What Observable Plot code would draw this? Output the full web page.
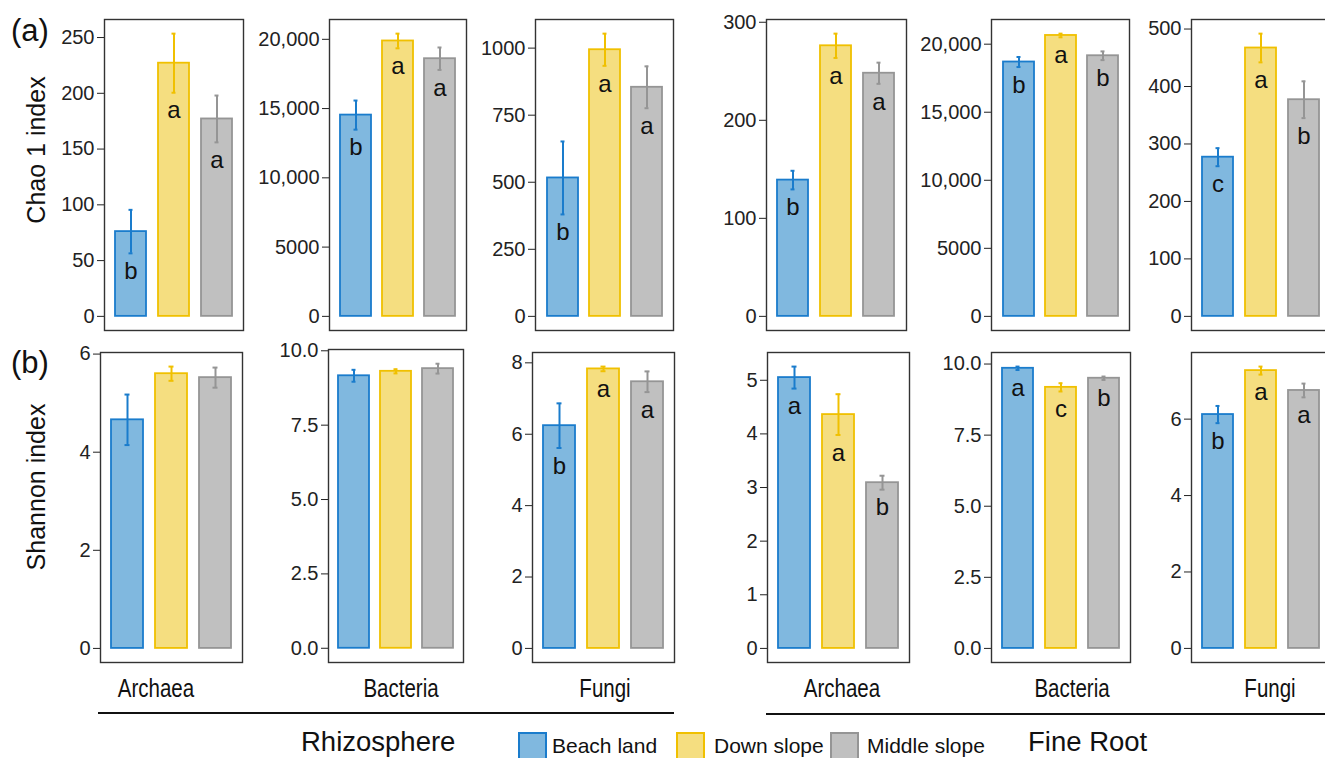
<!DOCTYPE html>
<html><head><meta charset="utf-8">
<script src="https://cdn.jsdelivr.net/npm/d3@7"></script>
<script src="https://cdn.jsdelivr.net/npm/@observablehq/plot@0.6"></script>
<style>
body{margin:0;background:#fff;}
#root{position:relative;width:1325px;height:758px;overflow:hidden;font-family:"Liberation Sans",Arial,Helvetica,sans-serif;color:#111;}
.abs{position:absolute;white-space:nowrap;line-height:1;}
</style></head><body><div id="root"></div>
<script>
// ---------- data ----------
const treatments = ["Beach land", "Down slope", "Middle slope"];
const taxa = ["Archaea", "Bacteria", "Fungi"];
const compartments = ["Rhizosphere", "Fine Root"];
const fills = ["#80b8df", "#f5de80", "#c0c0c0"];
const strokes = ["#1a7ccc", "#f0c000", "#959595"];

// panel order: Rhizosphere Archaea, Bacteria, Fungi, Fine Root Archaea, Bacteria, Fungi
const chaoMean = [[76, 227, 177], [14530, 19880, 18600], [516, 994, 854], [139, 276, 248], [18690, 20640, 19150], [277, 467, 377]];
const chaoSE = [[19.5, 26.5, 21], [1050, 530, 810], [136, 60, 78], [9.5, 12.4, 10.8], [370, 135, 320], [15.7, 25, 32]];
const chaoLetters = [["b", "a", "a"], ["b", "a", "a"], ["b", "a", "a"], ["b", "a", "a"], ["b", "a", "b"], ["c", "a", "b"]];
const chaoTicks = [[0, 50, 100, 150, 200, 250], [0, 5000, 10000, 15000, 20000], [0, 250, 500, 750, 1000], [0, 100, 200, 300], [0, 5000, 10000, 15000, 20000], [0, 100, 200, 300, 400, 500]];

const shanMean = [[4.66, 5.60, 5.52], [9.16, 9.31, 9.40], [6.24, 7.83, 7.47], [5.05, 4.36, 3.09], [9.85, 9.18, 9.50], [6.12, 7.27, 6.75]];
const shanSE = [[0.515, 0.145, 0.205], [0.20, 0.07, 0.165], [0.625, 0.065, 0.29], [0.205, 0.38, 0.13], [0.06, 0.145, 0.06], [0.225, 0.105, 0.18]];
const shanLetters = [["", "", ""], ["", "", ""], ["b", "a", "a"], ["a", "a", "b"], ["a", "c", "b"], ["b", "a", "a"]];
const shanTicks = [[0, 2, 4, 6], [0, 2.5, 5, 7.5, 10], [0, 2, 4, 6, 8], [0, 1, 2, 3, 4, 5], [0, 2.5, 5, 7.5, 10], [0, 2, 4, 6]];
const shanDecimals = [0, 1, 0, 0, 1, 0];

// ---------- layout ----------
const root = document.getElementById("root");
const topBoxes = [[104, 243, 19, 330], [329, 466, 19, 330], [535, 673, 19, 330], [766, 906, 19, 330], [991, 1129, 19, 330], [1191, 1331, 19, 330]];
const botBoxes = [[100, 242, 352, 662], [328, 463, 349, 662], [532, 674, 352, 662], [767, 909, 352, 662], [991, 1130, 352, 662], [1191, 1331, 352, 662]];
const FONT = '"Liberation Sans", Arial, Helvetica, sans-serif';

function panel(mean, se, letters, ticks, fmt, box) {
  const [l, r, t, b] = box;
  const ML = 90, MR = 4, MT = 4, MB = 4;
  const rows = treatments.map((g, i) => ({
    g, m: mean[i], lo: mean[i] - se[i], hi: mean[i] + se[i],
    letter: letters[i], fc: fills[i], sc: strokes[i]
  }));
  const mx = d3.max(rows, d => d.hi);
  const svg = Plot.plot({
    width: ML + (r - l) + MR, height: MT + (b - t) + MB,
    marginLeft: ML, marginRight: MR, marginTop: MT, marginBottom: MB,
    style: {fontFamily: FONT, fontSize: "20px", color: "#222", background: "transparent", overflow: "visible"},
    x: {domain: treatments, paddingInner: 0.27, paddingOuter: 0.24, axis: null},
    y: {domain: [-0.05 * mx, 1.05 * mx], axis: null},
    color: {type: "identity"},
    marks: [
      Plot.barY(rows, {x: "g", y1: 0, y2: "m", fill: "fc", stroke: "sc", strokeWidth: 1.8}),
      Plot.ruleX(rows, {x: "g", y1: "lo", y2: "hi", stroke: "sc", strokeWidth: 2}),
      Plot.tickY(rows, {x: "g", y: "hi", stroke: "sc", strokeWidth: 2, insetLeft: 13.5, insetRight: 13.5}),
      Plot.tickY(rows, {x: "g", y: "lo", stroke: "sc", strokeWidth: 2, insetLeft: 13.5, insetRight: 13.5}),
      Plot.text(rows.filter(d => d.letter), {x: "g", y: "lo", text: "letter", dy: 18, fontSize: 24, fill: "#111"}),
      Plot.axisY({ticks, tickFormat: fmt, tickSize: 7, tickPadding: 3, fontSize: 20, label: null}),
      Plot.frame({stroke: "#333", strokeWidth: 1.4})
    ]
  });
  svg.style.position = "absolute";
  svg.style.left = (l - ML) + "px";
  svg.style.top = (t - MT) + "px";
  root.appendChild(svg);
}

const chaoFmt = d => d >= 10000 ? d3.format(",")(d) : String(d);
chaoMean.forEach((m, i) => panel(m, chaoSE[i], chaoLetters[i], chaoTicks[i], chaoFmt, topBoxes[i]));
shanMean.forEach((m, i) => panel(m, shanSE[i], shanLetters[i], shanTicks[i], d3.format("." + shanDecimals[i] + "f"), botBoxes[i]));

// ---------- text & legend ----------
function txt(s, x, y, size, extra = "", center = true) {
  const d = document.createElement("div");
  d.className = "abs";
  d.textContent = s;
  d.style.left = x + "px";
  d.style.top = y + "px";
  d.style.fontSize = size + "px";
  d.style.transform = (center ? "translate(-50%,-50%) " : "translate(0,-50%) ") + extra;
  root.appendChild(d);
  return d;
}
txt("(a)", 11, 30, 31, "", false);
txt("(b)", 11, 362, 31, "", false);
txt("Chao 1 index", 36, 150, 25, "rotate(-90deg)");
txt("Shannon index", 36, 487, 25, "rotate(-90deg)");

const labelX = [[156, 401, 605], [842, 1072, 1270]];
compartments.forEach((c, ci) => taxa.forEach((t, ti) => txt(t, labelX[ci][ti], 688, 25, "scaleX(0.82)")));

function hline(x1, x2, y) {
  const d = document.createElement("div");
  d.className = "abs";
  Object.assign(d.style, {left: x1 + "px", top: (y - 1) + "px", width: (x2 - x1) + "px", height: "2px", background: "#111"});
  root.appendChild(d);
}
hline(98, 674, 713);
hline(766, 1330, 714);

txt(compartments[0], 301, 742, 27.5, "", false);
txt(compartments[1], 1028, 742, 27.5, "", false);
const legX = [[518, 552], [676, 714], [830, 867]];
treatments.forEach((g, i) => {
  const b = document.createElement("div");
  b.className = "abs";
  Object.assign(b.style, {left: legX[i][0] + "px", top: "732px", width: "25px", height: "27px",
    background: fills[i], border: "2px solid " + strokes[i]});
  root.appendChild(b);
  txt(g, legX[i][1], 745, 21, "", false);
});
</script></body></html>
